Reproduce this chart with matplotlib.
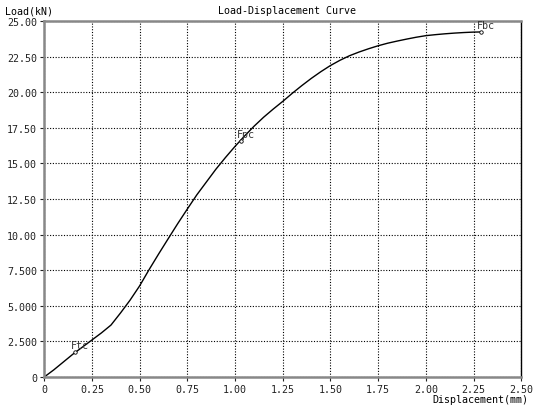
import matplotlib
matplotlib.use("Agg")
import matplotlib.pyplot as plt

# curve
disp = [0.0, 0.05, 0.10, 0.15, 0.20, 0.25, 0.30, 0.35, 0.40, 0.45,
        0.50, 0.55, 0.60, 0.65, 0.70, 0.75, 0.80, 0.85, 0.90, 0.95,
        1.00, 1.05, 1.10, 1.15, 1.20, 1.25, 1.30, 1.35, 1.40, 1.45,
        1.50, 1.55, 1.60, 1.65, 1.70, 1.75, 1.80, 1.85, 1.90, 1.95,
        2.00, 2.05, 2.10, 2.15, 2.20, 2.25, 2.29]
load = [0.0, 0.5, 1.05, 1.6, 2.1, 2.6, 3.1, 3.65, 4.5, 5.4,
        6.4, 7.55, 8.65, 9.72, 10.78, 11.8, 12.8, 13.7, 14.6, 15.42,
        16.2, 16.93, 17.62, 18.25, 18.82, 19.36, 19.93, 20.47, 20.98, 21.45,
        21.88, 22.25, 22.57, 22.83, 23.06, 23.27, 23.45, 23.6, 23.74, 23.87,
        23.98, 24.05, 24.11, 24.16, 24.2, 24.23, 24.24]

# labelled points
pt_names = ["Ftc", "Fpc", "Fbc"]
pt_x = [0.16, 1.03, 2.29]
pt_y = [1.75, 16.6, 24.24]

xticks = [0, 0.25, 0.5, 0.75, 1.0, 1.25, 1.5, 1.75, 2.0, 2.25, 2.5]
xlabels = ["0", "0.25", "0.50", "0.75", "1.00", "1.25", "1.50", "1.75", "2.00", "2.25", "2.50"]
yticks = [0, 2.5, 5, 7.5, 10, 12.5, 15, 17.5, 20, 22.5, 25]
ylabels = ["0", "2.500", "5.000", "7.500", "10.00", "12.50", "15.00", "17.50", "20.00", "22.50", "25.00"]

plt.rcParams['font.family'] = ['DejaVu Sans Mono']
fs = 7.2

fig = plt.figure(figsize=(5.39, 4.10), dpi=100)
ax = fig.add_axes([0.082, 0.078, 0.885, 0.868])

ax.plot(disp, load, color="black", lw=1.0)
ax.plot(pt_x, pt_y, "o", ms=2.5, mfc="white", mec="black", mew=0.6)
for name, x, y in zip(pt_names, pt_x, pt_y):
    ax.annotate(name, (x, y), xytext=(-3, 3), textcoords="offset points",
                fontsize=fs, color="#333333")

ax.set_xlim(0, 2.5)
ax.set_ylim(0, 25)
ax.set_xticks(xticks)
ax.set_xticklabels(xlabels, fontsize=fs)
ax.set_yticks(yticks)
ax.set_yticklabels(ylabels, fontsize=fs)
ax.tick_params(length=3, width=0.8, pad=2, colors="#222222")
ax.grid(True, color="black", ls=(0, (1, 1.5)), lw=0.8)

for s in ["left", "bottom", "top"]:
    ax.spines[s].set_color("#888888")
    ax.spines[s].set_linewidth(1.8)
ax.spines["right"].set_color("black")
ax.spines["right"].set_linewidth(1.0)

fig.text(0.533, 0.972, "Load-Displacement Curve", ha="center", va="center", fontsize=fs)
fig.text(0.01, 0.972, "Load(kN)", ha="left", va="center", fontsize=fs)
fig.text(0.98, 0.025, "Displacement(mm)", ha="right", va="center", fontsize=fs)

fig.savefig("out.png", dpi=100, facecolor="white")
